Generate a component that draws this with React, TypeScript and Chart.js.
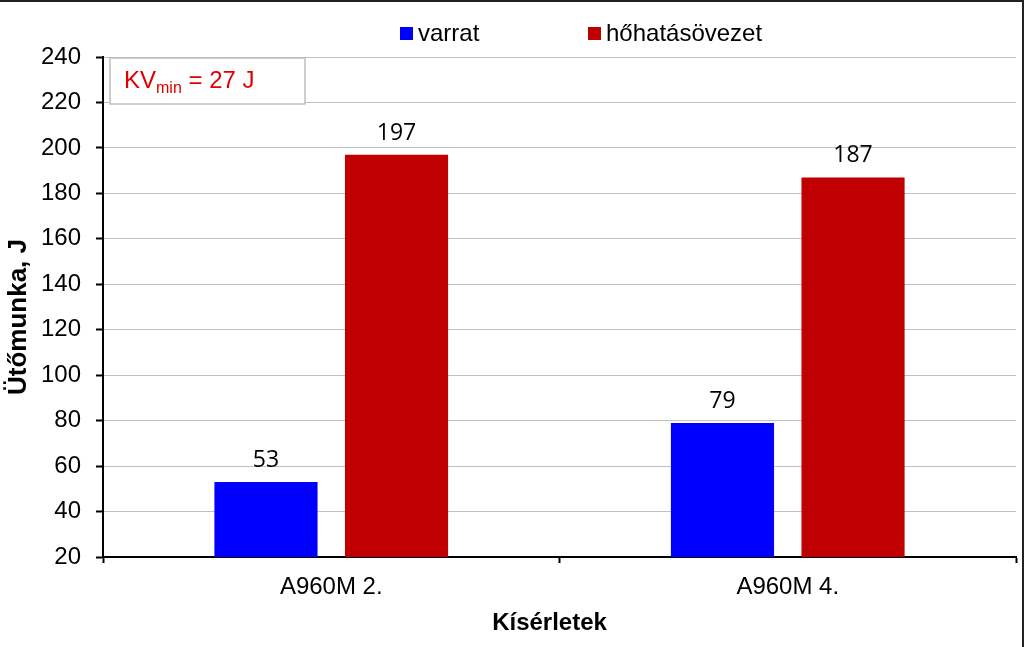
import React, { useEffect, useRef } from "react";
import { Chart, registerables } from "chart.js";

Chart.register(...registerables);

const categories = ["A960M 2.", "A960M 4."];
const seriesNames = ["varrat", "hőhatásövezet"];
const varratValues = [53, 79];
const hohatasValues = [197, 187];
const seriesColors = ["#0000FF", "#C00000"];
const yMin = 20;
const yMax = 240;
const yStep = 20;
const yTitle = "Ütőmunka, J";
const xTitle = "Kísérletek";
const noteMain = "KV";
const noteSub = "min";
const noteRest = " = 27 J";

const SANS = "'Liberation Sans', Arial, sans-serif";
const LABEL_FONT = "'Open Sans', 'Noto Sans', sans-serif";

const overlayPlugin = {
  id: "overlay",
  afterDatasetsDraw(chart: any) {
    const ctx = chart.ctx;
    ctx.save();
    // data labels
    ctx.fillStyle = "#000";
    ctx.font = `23px ${LABEL_FONT}`;
    ctx.textAlign = "center";
    ctx.textBaseline = "alphabetic";
    chart.data.datasets.forEach((ds: any, di: number) => {
      const meta = chart.getDatasetMeta(di);
      meta.data.forEach((el: any, i: number) => {
        ctx.fillText(String(ds.data[i]), el.x, el.y - 15);
      });
    });
    ctx.restore();
  },
  afterDraw(chart: any) {
    const ctx = chart.ctx;
    const area = chart.chartArea;
    ctx.save();
    // axis titles
    ctx.fillStyle = "#000";
    ctx.textAlign = "center";
    ctx.textBaseline = "middle";
    ctx.font = `bold 24px ${SANS}`;
    ctx.fillText(xTitle, area.left + (area.right - area.left) / 2 - 10, 623);
    ctx.save();
    ctx.translate(19, (area.top + area.bottom) / 2 + 10);
    ctx.rotate(-Math.PI / 2);
    ctx.font = `bold 26px ${SANS}`;
    ctx.fillText(yTitle, 0, 0);
    ctx.restore();
    // legend
    ctx.font = `24px ${SANS}`;
    ctx.textBaseline = "alphabetic";
    ctx.textAlign = "left";
    const legendStarts = [400, 588];
    seriesNames.forEach((name, i) => {
      const x = legendStarts[i];
      ctx.fillStyle = seriesColors[i];
      ctx.fillRect(x, 27, 13, 13);
      ctx.fillStyle = "#000";
      ctx.fillText(name, x + 18, 41);
    });
    // note box
    const bx = area.left + 7;
    const by = area.top + 1;
    ctx.strokeStyle = "#BFBFBF";
    ctx.lineWidth = 1.5;
    ctx.fillStyle = "#fff";
    ctx.fillRect(bx, by, 195, 46);
    ctx.strokeRect(bx, by, 195, 46);
    ctx.fillStyle = "#E00000";
    ctx.font = `24px ${SANS}`;
    let tx = bx + 14;
    ctx.fillText(noteMain, tx, by + 30);
    tx += ctx.measureText(noteMain).width;
    ctx.font = `16px ${SANS}`;
    ctx.fillText(noteSub, tx, by + 35);
    tx += ctx.measureText(noteSub).width;
    ctx.font = `24px ${SANS}`;
    ctx.fillText(noteRest, tx, by + 30);
    // image frame (top and right)
    ctx.strokeStyle = "#222";
    ctx.lineWidth = 2;
    ctx.beginPath();
    ctx.moveTo(0, 1);
    ctx.lineTo(chart.width - 1, 1);
    ctx.lineTo(chart.width - 1, chart.height);
    ctx.stroke();
    ctx.restore();
  },
};

export default function App() {
  const canvasRef = useRef<HTMLCanvasElement | null>(null);

  useEffect(() => {
    document.body.style.margin = "0";
    const canvas = canvasRef.current;
    if (!canvas) return;
    const chart = new Chart(canvas, {
      type: "bar",
      data: {
        labels: categories,
        datasets: [
          {
            label: seriesNames[0],
            data: varratValues,
            backgroundColor: seriesColors[0],
            categoryPercentage: 0.572,
            barPercentage: 0.79,
          },
          {
            label: seriesNames[1],
            data: hohatasValues,
            backgroundColor: seriesColors[1],
            categoryPercentage: 0.572,
            barPercentage: 0.79,
          },
        ],
      },
      options: {
        responsive: false,
        animation: false,
        layout: { padding: { top: 57, right: 8, left: 0, bottom: 0 } },
        plugins: {
          legend: { display: false },
          tooltip: { enabled: false },
          title: { display: false },
        },
        scales: {
          x: {
            offset: true,
            grid: {
              display: true,
              drawOnChartArea: false,
              offset: true,
              tickColor: "#000",
              tickLength: 6,
              tickWidth: 2,
            },
            border: { color: "#000", width: 2 },
            ticks: {
              color: "#000",
              font: { family: SANS, size: 24 },
              padding: 10,
            },
            title: { display: false },
            afterFit(scale: any) {
              scale.height = 90;
            },
          },
          y: {
            min: yMin,
            max: yMax,
            grid: {
              color: "#C0C0C0",
              lineWidth: 1,
              tickColor: "#000",
              tickLength: 7,
              tickWidth: 2,
            },
            border: { color: "#000", width: 2 },
            ticks: {
              stepSize: yStep,
              color: "#000",
              font: { family: SANS, size: 24 },
              padding: 15,
            },
            title: { display: false },
            afterFit(scale: any) {
              scale.width = 103;
            },
          },
        },
      },
      plugins: [overlayPlugin],
    } as any);
    return () => chart.destroy();
  }, []);

  return (
    <div style={{ width: 1024, height: 647, background: "#fff" }}>
      <canvas ref={canvasRef} width={1024} height={647} style={{ display: "block" }} />
    </div>
  );
}
